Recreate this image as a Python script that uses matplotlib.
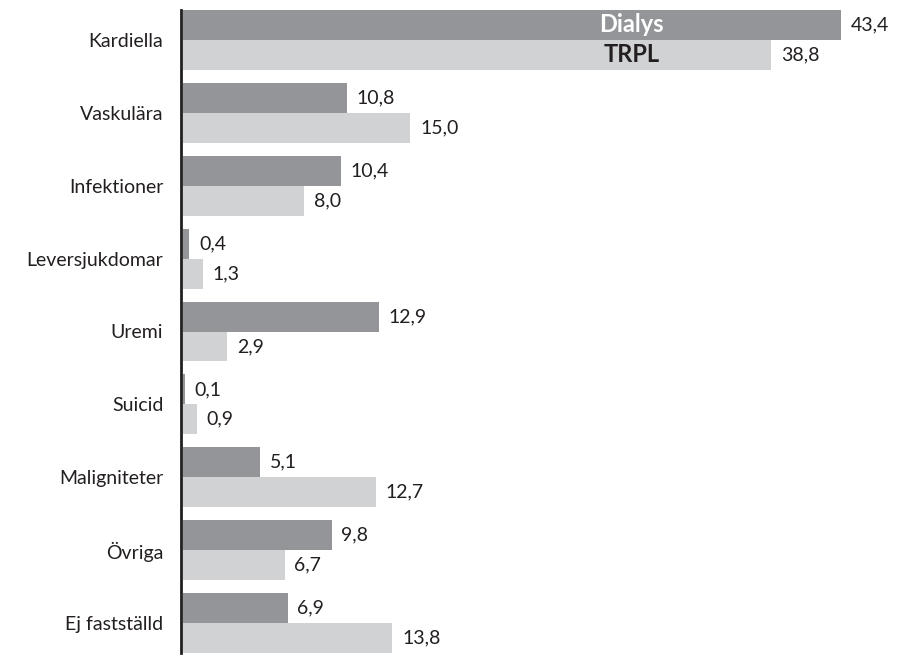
import matplotlib.pyplot as plt
import numpy as np

plt.rcParams['font.family'] = ['Lato', 'DejaVu Sans']

categories = ['Kardiella', 'Vaskulära', 'Infektioner', 'Leversjukdomar', 'Uremi',
              'Suicid', 'Maligniteter', 'Övriga', 'Ej fastställd']
dialys = [43.4, 10.8, 10.4, 0.4, 12.9, 0.1, 5.1, 9.8, 6.9]
trpl = [38.8, 15.0, 8.0, 1.3, 2.9, 0.9, 12.7, 6.7, 13.8]
series_names = ['Dialys', 'TRPL']

dark = '#939598'
light = '#d1d2d4'
h = 0.411

fig = plt.figure(figsize=(8.98, 6.55), dpi=100)
ax = fig.add_axes([183 / 898, 2 / 655, 700 / 898, 643 / 655])

# spine first: moving it resets the tick settings
for s in ['top', 'right', 'bottom']:
    ax.spines[s].set_visible(False)
ax.spines['left'].set_position(('outward', 1.2))
ax.spines['left'].set_linewidth(2.0)
ax.spines['left'].set_color('#231f20')
ax.spines['left'].set_zorder(5)

y = np.arange(len(categories))
ax.barh(y - h / 2, dialys, height=h, color=dark, linewidth=0, zorder=3)
ax.barh(y + h / 2, trpl, height=h, color=light, linewidth=0, zorder=3)

def fmt(v):
    return f'{v:.1f}'.replace('.', ',')

for i in range(len(categories)):
    ax.text(dialys[i] + 0.65, y[i] - h / 2, fmt(dialys[i]), va='center', ha='left',
            fontsize=14, color='#231f20')
    ax.text(trpl[i] + 0.65, y[i] + h / 2, fmt(trpl[i]), va='center', ha='left',
            fontsize=14, color='#231f20')

ax.text(29.6, -h / 2, series_names[0], va='center', ha='center', fontsize=17,
        fontweight='bold', color='white', zorder=4)
ax.text(29.6, h / 2, series_names[1], va='center', ha='center', fontsize=17,
        fontweight='bold', color='#231f20', zorder=4)

ax.set_xlim(0, 700 / 15.16)
ax.set_ylim(len(categories) - 1 + h, -h)
ax.set_yticks(y)
ax.set_yticklabels(categories, fontsize=14, color='#231f20')
ax.tick_params(axis='y', length=0, pad=13)
ax.set_xticks([])

fig.savefig('out.png', dpi=100)
